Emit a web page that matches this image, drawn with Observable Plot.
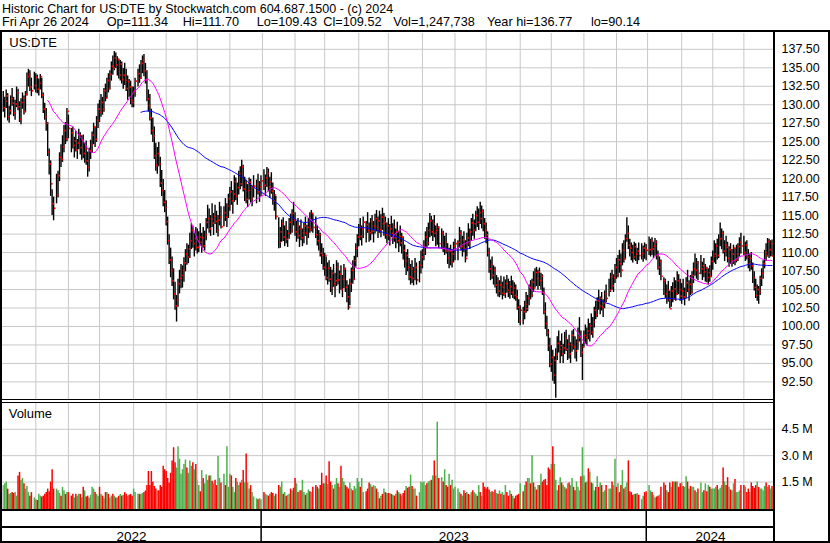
<!DOCTYPE html>
<html><head><meta charset="utf-8">
<script src="https://cdn.jsdelivr.net/npm/d3@7"></script>
<script src="https://cdn.jsdelivr.net/npm/@observablehq/plot@0.6"></script>
<style>
body{margin:0;background:#fff;}
#wrap{position:relative;width:830px;height:543px;overflow:hidden;font-family:"Liberation Sans",Arial,sans-serif;color:#000;background:#fff;}
.t{position:absolute;white-space:pre;line-height:1;color:#000;}
.ln{position:absolute;background:#000;}
.pl{position:absolute;left:0;}
</style></head><body><div id="wrap"></div>
<script>
// ---------- DATA (one value per weekday, May 2 2022 .. Apr 26 2024; holiday slots are dropped) ----------
const hi2022 = [
131.8,131.0,132.0,131.5,129.8,131.2,132.2,131.0,130.6,132.4,132.1,130.4,130.8,131.6,131.2,131.8,134.3,134.8,134.6,133.6,134.0,134.4,
134.2,134.0,133.5,134.1,133.6,131.6,130.2,129.5,127.6,124.0,122.4,118.5,117.5,119.2,120.6,121.0,123.5,124.6,125.8,127.2,127.6,129.5,
128.6,127.4,126.8,127.0,125.6,126.4,125.3,126.7,126.2,125.8,125.9,124.8,125.1,123.6,124.1,125.2,126.3,127.5,127.0,128.4,130.1,
130.6,131.4,131.0,132.2,132.8,133.6,134.2,134.6,135.8,136.6,137.2,137.0,136.5,136.2,136.0,135.8,134.9,135.6,134.8,133.9,133.4,133.2,132.4,
132.4,133.6,134.4,134.8,135.4,136.0,136.6,136.8,135.6,134.6,132.0,131.4,129.4,128.2,127.0,124.8,124.2,124.9,122.9,121.1,119.9,118.4,
117.0,114.8,112.4,110.6,109.4,107.8,106.0,104.2,106.4,107.6,108.4,108.2,109.3,110.4,111.2,111.0,112.6,113.9,113.6,112.6,113.4,
113.2,112.8,113.9,112.6,113.4,112.9,114.6,116.4,115.9,115.0,116.6,115.3,116.4,115.6,115.0,116.8,116.2,115.4,116.2,117.3,116.6,117.9,
118.8,119.6,118.4,120.4,120.1,119.4,121.0,121.6,122.5,121.8,120.2,119.8,119.2,120.1,119.9,119.0,120.4,120.0,119.8,120.6,119.6,120.4];
const lo2022 = [
129.0,128.2,129.5,127.8,127.5,128.6,129.8,128.4,127.9,129.6,129.2,127.6,127.3,129.4,128.6,128.9,131.2,132.4,131.8,131.1,131.5,132.0,
131.6,131.5,131.2,132.0,130.8,128.8,127.9,126.4,123.0,120.5,117.6,115.0,114.3,115.5,116.6,117.4,119.6,121.5,122.2,123.5,124.6,125.0,
125.4,124.3,123.5,124.0,122.8,123.6,122.6,123.9,123.2,122.5,122.7,122.1,121.8,120.2,120.9,122.6,123.4,124.6,124.2,124.9,126.8,
127.6,128.3,128.6,129.0,130.4,130.8,131.6,132.0,133.2,134.0,134.6,134.9,133.9,133.5,133.2,132.8,132.1,132.6,131.8,130.6,131.0,130.0,129.6,
129.6,131.0,132.0,132.4,132.9,133.4,134.2,133.8,132.8,130.4,129.0,127.8,125.9,124.9,122.6,121.0,120.6,121.6,118.8,117.6,116.2,115.4,
113.6,111.0,108.4,106.6,105.4,103.6,102.2,100.6,102.6,104.4,105.1,105.2,106.0,107.4,108.3,108.5,109.2,110.4,110.6,109.4,110.2,
109.8,110.0,110.9,109.9,110.6,110.2,111.6,113.2,112.6,112.2,113.4,112.3,113.8,112.6,112.1,113.6,113.2,112.7,113.5,114.2,113.4,114.6,
115.6,116.4,115.2,116.8,117.0,116.4,117.8,118.5,118.9,118.2,116.9,116.6,116.1,117.1,116.7,116.2,117.4,116.9,116.6,117.8,116.8,117.6];
const cl2022 = [
129.6,130.5,131.2,128.4,129.2,130.8,130.2,128.9,130.1,131.6,129.7,128.0,130.3,130.9,129.1,131.4,133.8,134.1,132.4,131.9,133.5,132.6,
133.7,132.1,132.9,133.8,131.3,129.4,128.4,127.5,123.6,122.0,119.3,116.6,116.0,118.3,117.8,120.4,122.9,122.6,124.3,126.5,125.4,129.1,
126.8,124.9,126.2,124.5,125.1,123.9,124.8,125.9,124.2,125.2,123.4,124.0,122.4,121.5,123.8,124.6,125.9,127.0,125.3,127.9,129.4,
129.0,130.3,129.4,131.9,130.9,133.3,132.2,134.1,135.2,135.0,136.3,135.4,136.1,134.0,135.5,133.4,134.0,133.3,132.2,133.1,132.4,130.6,130.3,
131.8,133.2,133.9,134.2,133.6,135.6,136.0,134.6,133.4,130.8,129.9,128.2,126.5,125.8,123.1,121.8,123.4,122.0,119.4,118.4,116.8,116.1,
114.2,111.6,109.0,107.6,106.2,104.4,102.8,103.6,105.8,106.5,106.9,107.6,108.6,109.8,109.4,110.5,111.6,113.0,111.2,111.9,110.7,
110.7,112.1,111.4,112.0,110.9,112.4,114.1,114.6,113.2,114.5,114.0,114.9,114.2,113.0,114.4,114.8,113.5,114.9,115.4,114.8,116.3,117.3,
118.2,117.0,117.9,119.6,117.6,118.8,120.7,119.3,121.6,118.6,119.4,117.2,118.4,119.5,117.3,118.8,119.0,117.6,119.3,118.2,118.9,119.7];
const vol2022 = [
1.3,1.4,1.5,1.1,0.8,0.85,0.9,0.85,0.9,0.7,1.85,2.05,1.6,1.7,1.4,1.1,1.25,0.9,0.7,0.9,1.0,0.6,
0.5,0.45,0.8,0.7,0.65,0.7,0.8,0.9,1.1,0.95,1.5,2.2,1.1,1.1,1.1,1.0,0.85,0.7,1.2,1.0,0.8,0.9,
0.9,0.75,0.7,0.8,0.6,0.8,0.7,0.8,0.8,0.6,1.2,1.0,0.65,0.7,0.6,0.75,1.2,1.1,0.9,0.8,0.7,
1.2,0.8,0.7,0.55,0.9,0.9,0.8,0.6,0.7,0.8,0.7,0.6,0.6,0.7,0.8,0.7,0.75,0.9,0.8,0.7,0.75,0.8,0.7,
1.1,0.9,0.8,0.8,0.8,0.8,0.85,0.9,1.0,1.3,2.1,1.3,2.1,1.5,1.25,1.1,1.0,1.0,1.3,1.2,2.4,2.2,
2.1,1.7,1.45,2.0,2.7,3.45,2.6,2.3,3.5,2.8,1.95,2.2,2.5,2.75,2.3,2.0,2.7,2.4,2.6,2.2,2.5,
1.6,1.3,0.95,2.15,1.7,1.4,1.9,1.6,1.85,1.85,1.55,1.4,1.6,1.3,2.95,1.7,1.45,1.6,1.95,1.3,3.5,1.2,
1.95,1.85,1.2,0.9,1.7,1.5,1.3,1.45,1.6,2.15,1.45,3.1,1.45,1.1,1.3,0.9,0.65,0.5,0.55,0.5,0.55,0.5];

const hi2023 = [
120.8,121.2,120.5,121.5,121.3,120.2,120.8,119.4,118.4,117.6,115.8,114.7,113.4,114.4,114.7,113.6,114.2,113.0,114.6,115.2,115.8,116.8,
115.4,114.2,114.6,113.6,114.4,113.2,114.0,114.8,113.7,114.6,115.4,115.7,115.2,114.4,114.8,113.6,113.0,112.6,111.2,110.6,
109.9,109.4,108.6,108.9,108.0,107.6,108.4,107.2,108.9,108.6,107.5,108.2,106.9,108.4,107.9,106.2,105.6,106.4,107.9,108.9,109.5,111.2,112.4,
113.8,114.6,113.6,114.8,115.3,114.2,115.4,114.0,114.6,115.0,114.2,115.2,115.7,114.8,115.6,115.1,116.0,115.3,114.8,114.0,
114.6,113.8,114.9,113.9,114.4,113.2,114.1,112.8,113.6,112.6,112.1,111.0,110.0,110.4,109.2,108.4,108.9,108.0,109.2,108.6,107.6,108.8,110.2,
110.4,111.6,112.8,113.4,114.0,115.3,114.9,114.4,115.0,113.6,113.9,113.5,112.7,113.2,112.9,112.2,112.6,111.2,110.6,111.0,110.4,111.4,
111.8,112.4,111.6,113.4,113.0,112.2,112.8,111.6,112.6,113.9,113.2,114.6,115.2,114.4,115.6,116.2,115.9,116.8,116.3,115.8,114.6,
114.0,112.8,110.6,109.0,109.4,108.2,108.0,106.9,106.6,106.2,106.8,106.0,106.7,106.3,106.9,106.4,106.1,106.8,106.2,105.9,105.6,104.9,103.6,
102.8,103.6,102.6,103.4,104.6,104.2,105.6,106.2,106.4,107.4,107.8,108.0,107.6,107.9,107.2,107.0,105.2,103.2,101.4,99.6,98.4,
97.4,96.8,95.9,97.0,98.6,99.4,98.0,99.0,97.6,99.2,99.5,98.2,98.8,97.8,99.4,99.6,98.6,98.2,99.8,101.2,99.4,97.6,
99.4,100.2,99.8,101.0,100.4,101.7,101.2,102.6,103.4,103.9,104.9,104.0,104.6,103.6,104.8,105.6,105.4,106.4,107.2,107.6,107.0,108.4,
109.2,109.6,110.3,109.8,111.2,111.6,112.4,114.7,113.6,111.8,111.3,111.0,111.4,111.2,110.6,111.3,110.8,111.2,110.9,111.3,111.1];
const lo2023 = [
117.8,118.4,117.6,118.8,118.2,117.3,117.9,116.4,115.6,114.4,112.2,110.5,110.6,111.4,111.5,110.8,111.2,110.7,111.8,112.4,112.6,113.6,
112.2,111.4,111.8,110.7,111.6,110.8,111.2,112.2,111.0,111.9,112.6,112.8,112.6,111.6,111.9,110.9,110.2,109.4,108.4,107.6,
106.8,106.2,105.6,106.0,104.6,104.2,105.3,103.9,105.4,105.6,104.4,104.9,103.9,105.1,104.6,103.2,102.2,102.8,104.6,105.7,106.2,108.0,109.3,
110.8,111.6,110.9,111.9,112.4,111.3,112.6,111.4,111.6,112.4,111.3,112.5,112.8,111.9,112.6,112.0,113.0,112.2,111.8,111.2,
111.6,110.9,112.0,111.1,111.4,110.5,111.2,110.0,110.8,109.8,109.0,107.9,106.9,107.4,106.2,105.6,105.8,105.5,106.2,105.6,105.0,105.9,107.1,
107.8,108.9,109.6,110.5,110.9,112.0,112.2,111.5,112.0,110.8,111.0,110.6,109.8,110.4,110.0,109.6,109.8,108.4,107.8,108.2,107.9,108.6,
108.9,109.6,108.9,110.6,110.2,109.4,110.0,108.6,109.4,110.8,110.4,111.5,112.2,111.8,112.8,113.4,113.0,113.8,113.2,112.8,111.8,
111.2,109.4,107.2,106.2,106.4,105.6,105.2,104.4,104.0,103.9,104.2,103.6,104.1,103.8,104.5,103.9,103.7,104.2,103.8,103.6,103.4,102.2,100.4,
100.1,100.8,100.2,100.9,101.8,102.0,102.8,103.6,103.9,104.6,105.2,105.4,104.9,105.4,104.9,104.2,101.6,99.6,98.6,96.6,94.4,
93.8,92.6,92.2,90.3,95.4,96.4,95.0,95.9,95.0,96.2,96.6,95.4,95.6,95.0,96.5,96.8,95.6,95.2,96.8,97.9,95.8,92.7,
97.2,97.6,97.4,98.2,97.9,98.8,98.4,99.8,100.9,101.2,102.2,101.6,102.1,101.2,102.4,103.2,102.9,104.0,104.6,104.9,104.6,105.8,
106.4,106.6,107.2,106.6,108.2,108.6,109.0,111.4,110.4,109.4,108.9,108.6,109.0,108.8,108.4,108.9,108.6,109.0,108.7,109.1,108.9];
const cl2023 = [
120.2,119.1,120.1,120.7,118.9,119.6,118.3,117.0,117.8,114.9,113.9,111.4,112.8,113.9,112.1,113.4,111.8,112.6,114.1,113.0,115.3,114.4,
112.8,113.6,112.3,113.2,112.0,112.7,113.6,112.6,113.4,114.2,113.1,115.3,113.4,113.9,112.4,111.6,112.4,109.9,109.6,108.0,
109.6,106.6,107.9,106.4,105.2,107.2,105.8,106.2,108.0,106.3,107.1,105.0,106.4,107.8,105.3,104.0,102.6,105.8,107.6,106.4,108.9,110.6,112.1,
113.4,112.2,113.2,114.1,112.9,113.8,113.0,112.7,114.2,112.9,113.6,114.6,113.4,114.3,113.1,114.8,113.9,114.1,112.4,113.6,
112.3,113.2,112.6,113.5,112.0,112.8,111.6,112.2,111.3,112.1,110.3,108.9,109.6,108.0,106.7,107.8,106.5,107.4,108.0,106.3,106.9,108.3,109.4,
110.0,110.7,112.1,111.3,113.0,114.3,112.8,113.9,112.6,113.0,113.4,111.2,111.6,112.6,110.6,111.4,110.2,109.3,110.2,108.7,109.8,110.9,
111.2,110.0,111.4,112.6,110.8,111.7,110.5,109.2,112.0,111.2,112.8,114.0,113.0,113.9,115.0,114.1,115.4,114.6,115.6,113.9,113.0,
112.4,110.0,107.8,108.4,106.9,107.6,105.6,106.2,104.8,105.6,104.5,105.3,104.4,105.8,104.9,104.6,105.4,104.6,105.2,104.2,104.0,102.6,100.8,
102.2,101.4,102.0,103.0,102.4,103.8,105.3,104.2,106.0,105.2,107.3,106.5,107.4,106.2,106.8,104.6,102.0,100.4,99.2,97.4,94.9,
95.8,93.4,95.4,96.2,97.7,96.9,97.4,96.3,97.1,98.4,96.9,97.6,96.3,97.5,98.8,97.2,96.7,97.9,98.5,98.6,96.5,97.2,
98.8,98.5,99.4,98.9,100.1,99.2,100.6,102.2,101.6,103.5,102.8,103.8,102.6,103.2,104.4,103.8,105.3,104.9,106.8,105.5,106.6,108.0,
107.0,109.0,108.5,107.6,110.3,109.2,111.9,112.6,111.0,110.6,110.0,109.4,110.8,109.8,110.2,109.6,110.5,109.9,110.6,110.4,110.3];
const vol2023 = [
0.8,0.9,0.8,0.75,0.7,0.8,0.9,0.85,0.7,0.8,1.0,1.3,1.2,1.5,0.8,0.9,0.7,0.75,0.8,1.1,1.0,1.15,
1.7,1.4,0.9,1.0,1.0,1.6,0.9,0.75,0.85,1.05,0.95,0.9,1.2,1.0,1.3,1.2,1.1,1.3,2.0,1.4,
1.4,1.85,1.35,2.65,1.5,1.3,1.1,1.35,1.7,1.4,1.2,2.4,1.7,1.5,1.3,1.2,1.1,1.45,1.1,1.0,1.25,1.1,1.7,
1.5,1.2,1.7,0.9,0.9,0.95,1.1,1.45,1.35,1.2,1.3,1.25,1.1,0.9,0.55,0.7,0.8,1.1,0.9,0.85,
0.85,0.85,0.8,0.75,0.7,0.8,1.0,0.9,0.8,0.7,0.85,1.0,1.25,1.15,1.2,1.9,1.25,1.1,1.1,0.7,0.6,0.9,1.5,
1.45,1.5,1.3,1.4,1.5,1.55,1.6,1.85,2.7,1.85,4.9,1.7,1.0,1.75,1.5,2.2,1.3,1.2,1.95,1.3,1.6,1.1,
1.2,1.1,1.1,0.9,0.8,0.7,1.0,0.85,0.9,0.8,0.75,0.9,1.0,0.9,0.8,0.7,1.3,0.9,0.7,1.45,1.2,
1.1,1.2,1.05,0.9,0.95,0.9,1.05,0.85,0.8,1.0,0.8,0.9,0.75,1.3,0.9,0.7,1.0,0.8,0.7,0.55,0.7,0.75,0.8,
1.4,1.0,0.95,1.3,1.5,1.7,1.7,1.4,3.0,1.45,1.2,1.05,1.3,1.3,1.95,1.5,1.6,1.65,1.3,2.3,2.2,
2.5,3.5,2.5,1.6,1.0,1.3,1.75,1.45,1.3,1.2,1.1,1.4,1.45,1.3,1.7,1.2,1.0,1.5,1.2,1.0,1.8,3.45,
1.85,1.45,1.5,2.25,2.05,1.45,1.4,1.0,1.2,1.8,1.2,1.45,1.3,0.9,1.0,1.3,1.1,1.1,1.1,1.5,1.3,2.8,
1.2,1.4,0.9,1.3,2.15,1.1,1.2,1.45,2.7,0.95,0.9,0.75,0.8,0.8,0.85,0.75,0.5,0.5,0.7,0.9,0.95];

const hi2024 = [
111.6,112.1,111.8,112.0,111.4,111.9,111.6,110.2,109.4,109.0,107.6,106.6,106.4,105.6,106.1,104.8,105.4,105.9,106.6,106.2,107.4,107.0,106.4,
105.8,106.4,105.2,106.6,107.6,106.2,106.9,107.4,108.6,109.8,109.2,108.8,109.4,109.6,108.7,109.2,108.4,108.0,107.8,108.2,109.4,
110.2,111.6,111.2,111.8,112.4,114.0,113.2,112.9,111.6,112.2,111.4,110.8,111.2,110.4,111.0,110.6,111.0,111.2,112.0,112.6,112.4,
112.2,111.4,111.6,110.4,109.8,110.0,108.6,107.4,106.4,105.6,105.4,106.8,107.8,108.9,110.3,111.2,111.9,111.8,111.6,111.70];
const lo2024 = [
109.2,109.6,109.4,109.6,109.2,109.5,109.0,107.6,106.9,106.2,105.0,104.2,103.8,103.0,103.3,102.4,102.6,103.2,103.6,103.4,104.2,104.3,103.4,
103.0,103.6,102.8,103.8,104.6,103.4,104.2,104.4,105.8,106.8,106.4,106.2,106.6,107.0,106.2,106.6,106.0,105.9,105.6,106.0,106.6,
107.6,108.6,108.4,109.0,109.2,110.8,110.4,109.8,108.8,109.4,108.6,108.0,108.4,108.0,108.4,108.2,108.6,108.8,109.4,109.8,109.6,
109.6,108.8,109.0,107.8,107.4,107.6,105.8,104.8,103.8,103.4,103.0,104.2,105.4,106.4,107.8,108.8,109.4,109.2,109.4,109.43];
const cl2024 = [
111.2,110.4,111.6,110.5,110.9,111.4,109.6,108.0,108.8,106.8,105.6,106.2,104.4,104.9,103.6,102.4,104.8,103.7,105.1,104.4,106.2,105.0,104.1,
104.8,104.0,104.6,105.9,105.0,105.7,104.6,106.9,107.8,107.6,108.6,107.2,108.9,107.8,108.2,107.4,107.9,106.6,107.3,106.8,108.8,
109.5,109.8,110.9,109.6,111.8,111.9,112.6,110.2,111.0,110.7,109.2,110.4,108.9,109.8,110.6,109.0,109.8,110.8,111.4,110.9,111.2,
110.0,111.0,109.4,108.5,109.2,108.2,106.6,105.3,104.2,105.0,104.6,106.5,107.2,108.5,110.0,109.6,111.5,110.4,111.2,109.52];
const vol2024 = [
1.0,1.3,1.0,0.9,0.75,0.6,0.65,0.7,0.75,1.2,1.0,1.45,1.3,1.0,0.9,1.45,1.2,1.5,1.5,1.5,1.5,1.2,1.4,
1.45,1.25,1.2,1.8,1.5,1.1,1.25,1.2,1.2,1.0,0.9,1.1,1.0,1.45,0.9,1.0,1.4,0.95,1.3,1.2,1.1,
1.1,1.1,1.2,1.3,1.05,1.15,1.3,2.3,1.5,1.3,1.75,1.2,1.05,1.0,1.4,1.65,0.9,0.9,1.0,1.3,1.0,
1.3,1.2,0.9,1.1,0.9,1.45,1.25,1.15,1.3,1.5,1.2,1.1,1.1,1.0,1.25,1.45,1.2,1.3,1.1,1.25];

const holidays = ["2022-05-30","2022-06-20","2022-07-04","2022-09-05","2022-11-24","2022-12-26",
  "2023-01-02","2023-01-16","2023-02-20","2023-04-07","2023-05-29","2023-06-19","2023-07-04","2023-09-04",
  "2023-11-23","2023-12-25","2024-01-01","2024-01-15","2024-02-19","2024-03-29"];
const priceTicks = [92.5,95,97.5,100,102.5,105,107.5,110,112.5,115,117.5,120,122.5,125,127.5,130,132.5,135,137.5];
const volTicks = [1.5,3,4.5];
const yearLabels = ["2022","2023","2024"];
const titleText = "Historic Chart for US:DTE by Stockwatch.com 604.687.1500 - (c) 2024";
const quoteFields = ["Fri Apr 26 2024","Op=111.34","Hi=111.70","Lo=109.43","Cl=109.52","Vol=1,247,738","Year hi=136.77","lo=90.14"];
const symbolText = "US:DTE";
const volumeText = "Volume";

// ---------- BUILD ----------
const HI = [...hi2022, ...hi2023, ...hi2024];
const LO = [...lo2022, ...lo2023, ...lo2024];
const CL = [...cl2022, ...cl2023, ...cl2024];
const VOL = [...vol2022, ...vol2023, ...vol2024];
const days = d3.utcDay.range(new Date(Date.UTC(2022,4,2)), new Date(Date.UTC(2024,3,27))).filter(d => d.getUTCDay() % 6 !== 0);
const fmt = d3.utcFormat("%Y-%m-%d");
const hol = new Set(holidays);
const rows = days.map((d, i) => ({i, date: d, hi: HI[i], lo: LO[i], cl: CL[i], vol: VOL[i]}))
  .filter(r => !hol.has(fmt(r.date)));
rows.forEach((r, k) => { const p = k ? rows[k-1].cl : r.cl; r.dir = r.cl > p ? "up" : r.cl < p ? "down" : "flat"; });

const monthStarts = [], yearStarts = [];
days.forEach((d, i) => {
  if (i === 0) return;
  const p = days[i-1];
  if (d.getUTCMonth() !== p.getUTCMonth()) monthStarts.push(i);
  if (d.getUTCFullYear() !== p.getUTCFullYear()) yearStarts.push(i);
});
const yb = [-0.9, ...yearStarts.map(s => s - 0.9), days.length + 0.9];
const yearRows = yearLabels.map((label, k) => ({label, c: (yb[k] + yb[k+1]) / 2}));

const FONT = '"Liberation Sans", Arial, sans-serif';
const xDomain = [-0.5, 520];
const common = {width: 830, marginLeft: 2, marginRight: 57, x: {domain: xDomain, axis: null}};
const GRID = "#c8c8c8";

const price = Plot.plot({
  ...common, height: 370, marginTop: 2, marginBottom: 2,
  y: {domain: [90.12, 139.64], axis: "right", ticks: priceTicks, tickFormat: d => d.toFixed(2), tickSize: 0, tickPadding: 8, label: null},
  style: {background: "transparent", fontFamily: FONT, fontSize: "12.5px", color: "#000", overflow: "visible"},
  marks: [
    Plot.ruleY(priceTicks, {stroke: GRID}),
    Plot.ruleX(monthStarts, {x: d => d, stroke: GRID}),
    Plot.ruleX(rows, {x: "i", y1: "lo", y2: "hi", stroke: "#000", strokeWidth: 1.4}),
    Plot.dot(rows, {x: "i", y: "cl", symbol: "square", r: 0.95, fill: "#ff0000", dx: 1.1}),
    Plot.line(rows, Plot.windowY({k: 90, anchor: "end", strict: true}, {x: "i", y: "cl", stroke: "#0000ff", strokeWidth: 1})),
    Plot.line(rows, Plot.windowY({k: 30, anchor: "end", strict: true}, {x: "i", y: "cl", stroke: "#ff00ff", strokeWidth: 1}))
  ]
});

const volColors = {up: "#4cb04c", down: "#ff0000", flat: "#a6a6a6"};
const volume = Plot.plot({
  ...common, height: 107, marginTop: 0, marginBottom: 0,
  y: {domain: [-0.06, 6.02], axis: "right", ticks: volTicks, tickFormat: d => d.toFixed(1) + " M", tickSize: 0, tickPadding: 8, label: null},
  style: {background: "transparent", fontFamily: FONT, fontSize: "12.5px", color: "#000", overflow: "visible"},
  marks: [
    Plot.ruleY(volTicks, {stroke: GRID}),
    Plot.ruleX(monthStarts, {x: d => d, stroke: GRID}),
    ...Object.keys(volColors).map(k =>
      Plot.ruleX(rows.filter(r => r.dir === k), {x: "i", y1: -0.06, y2: "vol", stroke: volColors[k], strokeWidth: 1.5}))
  ]
});

const dates = Plot.plot({
  ...common, height: 34, marginTop: 0, marginBottom: 0,
  style: {background: "transparent", fontFamily: FONT, fontSize: "13.5px", color: "#000", overflow: "visible"},
  marks: [
    Plot.ruleX(yearStarts, {x: d => d - 0.9, stroke: "#000", strokeWidth: 1.5}),
    Plot.text(yearRows, {x: "c", text: "label", frameAnchor: "bottom", lineAnchor: "bottom", dy: -2.5, fill: "#000"})
  ]
});

const wrap = document.getElementById("wrap");
function place(node, top) { node.classList.add("pl"); node.style.top = top + "px"; node.style.left = "0px"; node.style.position = "absolute"; node.style.maxWidth = "none"; wrap.appendChild(node); }
place(price, 31);
place(volume, 402);
place(dates, 509);

function text(str, left, top, size) {
  const s = document.createElement("div"); s.className = "t"; s.textContent = str;
  s.style.left = left + "px"; s.style.top = top + "px"; s.style.fontSize = size + "px"; wrap.appendChild(s);
}
text(titleText, 2, 2.5, 12.5);
const qx = [2, 106.7, 182.7, 256.7, 323.3, 393.3, 487, 591];
quoteFields.forEach((f, k) => text(f, qx[k], 16, 12.7));
text(symbolText, 9.3, 35.5, 13);
text(volumeText, 8.7, 406.5, 13);

function line(l, t, w, h) {
  const d = document.createElement("div"); d.className = "ln";
  Object.assign(d.style, {left: l + "px", top: t + "px", width: w + "px", height: h + "px"}); wrap.appendChild(d);
}
line(0, 29.5, 830, 2);      // top
line(0, 29.5, 2, 514);      // left
line(773.3, 29.5, 2, 514);  // inner right
line(828, 29.5, 2, 514);    // outer right
line(0, 541, 830, 2);       // bottom
line(0, 399, 774, 1);       // price/volume double line
line(0, 401.5, 774, 1.5);
line(0, 509, 774, 2);       // volume bottom
line(0, 526, 774, 1.5);     // month/year rows
</script></body></html>
